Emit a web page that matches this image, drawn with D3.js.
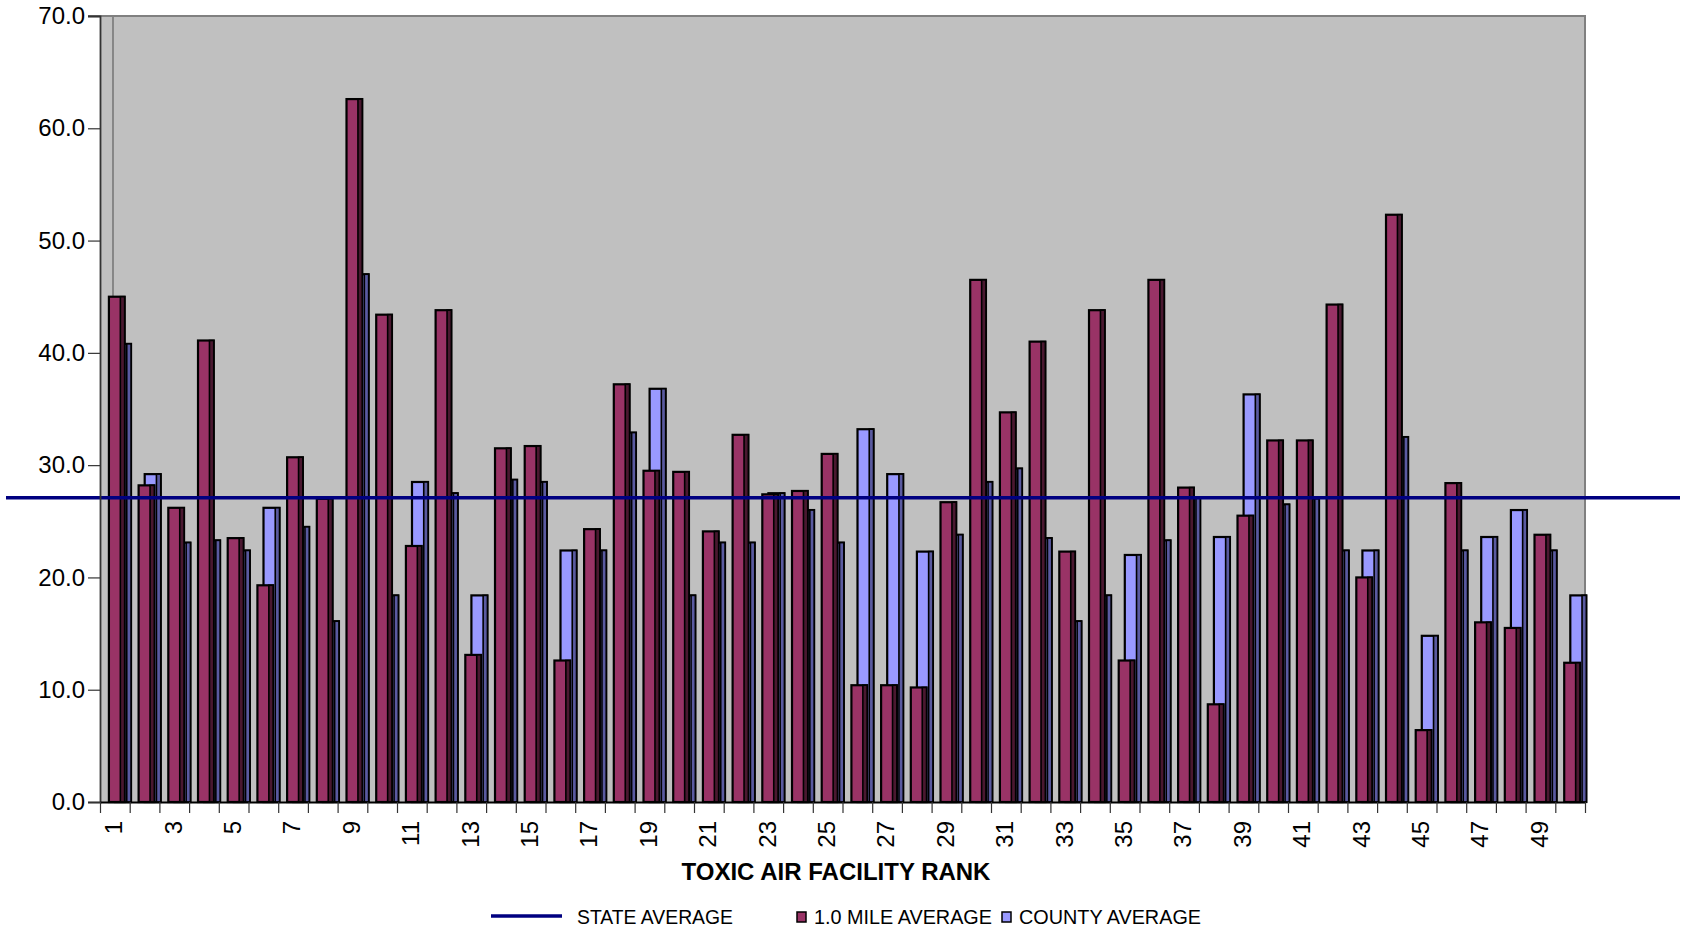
<!DOCTYPE html>
<html>
<head>
<meta charset="utf-8">
<script src="https://cdn.jsdelivr.net/npm/d3@7/dist/d3.min.js"></script>
<style>
  html, body { margin: 0; padding: 0; background: #ffffff; }
  svg { display: block; font-family: "Liberation Sans", Arial, sans-serif; }
</style>
</head>
<body>
<svg id="chart" width="1686" height="931"></svg>
<script>
// ---- data ----
const categories = [1,2,3,4,5,6,7,8,9,10,11,12,13,14,15,16,17,18,19,20,21,22,23,24,25,
                    26,27,28,29,30,31,32,33,34,35,36,37,38,39,40,41,42,43,44,45,46,47,48,49,50];
const mileAverage = [45.0, 28.2, 26.2, 41.1, 23.5, 19.3, 30.7, 27.0, 62.6, 43.4,
                     22.8, 43.8, 13.1, 31.5, 31.7, 12.6, 24.3, 37.2, 29.5, 29.4,
                     24.1, 32.7, 27.4, 27.7, 31.0, 10.4, 10.4, 10.2, 26.7, 46.5,
                     34.7, 41.0, 22.3, 43.8, 12.6, 46.5, 28.0, 8.7, 25.5, 32.2,
                     32.2, 44.3, 20.0, 52.3, 6.4, 28.4, 16.0, 15.5, 23.8, 12.4];
const countyAverage = [40.8, 29.2, 23.1, 23.3, 22.4, 26.2, 24.5, 16.1, 47.0, 18.4,
                       28.5, 27.5, 18.4, 28.7, 28.5, 22.4, 22.4, 32.9, 36.8, 18.4,
                       23.1, 23.1, 27.5, 26.0, 23.1, 33.2, 29.2, 22.3, 23.8, 28.5,
                       29.7, 23.5, 16.1, 18.4, 22.0, 23.3, 27.1, 23.6, 36.3, 26.5,
                       27.0, 22.4, 22.4, 32.5, 14.8, 22.4, 23.6, 26.0, 22.4, 18.4];
const stateAverage = 27.1;
const yTicks = [0, 10, 20, 30, 40, 50, 60, 70];
const xLabelCats = [1,3,5,7,9,11,13,15,17,19,21,23,25,27,29,31,33,35,37,39,41,43,45,47,49];
const legendLabels = ["STATE AVERAGE", "1.0 MILE AVERAGE", "COUNTY AVERAGE"];
const xTitle = "TOXIC AIR FACILITY RANK";

// ---- layout ----
const plot = { left: 100, right: 1585, top: 16, bottom: 802 };
const svg = d3.select("#chart");

const x = d3.scaleBand().domain(categories).range([plot.left, plot.right]).padding(0);
const xLin = d3.scaleLinear().domain([0, categories.length]).range([plot.left, plot.right]);
const y = d3.scaleLinear().domain([0, 70]).range([plot.bottom, plot.top]);
const bw = x.bandwidth();

// plot background
svg.append("rect")
  .attr("x", plot.left).attr("y", plot.top)
  .attr("width", plot.right - plot.left).attr("height", plot.bottom - plot.top)
  .attr("fill", "#C0C0C0");

// grey vertical line near first category
svg.append("line")
  .attr("x1", 113).attr("x2", 113)
  .attr("y1", plot.top).attr("y2", plot.bottom)
  .attr("stroke", "#808080").attr("stroke-width", 1.8);

// top & right borders
svg.append("line").attr("x1", 88).attr("x2", plot.right + 1)
  .attr("y1", plot.top).attr("y2", plot.top)
  .attr("stroke", "#808080").attr("stroke-width", 2);
svg.append("line").attr("x1", plot.right).attr("x2", plot.right)
  .attr("y1", plot.top).attr("y2", plot.bottom)
  .attr("stroke", "#808080").attr("stroke-width", 2);

// bars
function drawSeries(values, offset, widthFrac, face, side, cls) {
  const w = bw * widthFrac;
  const sideW = 4.3;
  const g = svg.append("g").attr("class", cls);
  const bars = g.selectAll("g").data(categories.map((c, i) => ({ c, v: values[i] })))
    .enter().append("g");
  bars.append("rect")
    .attr("x", d => x(d.c) + bw * offset)
    .attr("y", d => y(d.v))
    .attr("width", w)
    .attr("height", d => y(0) - y(d.v))
    .attr("fill", face).attr("stroke", "#000").attr("stroke-width", 2.2);
  bars.append("rect")
    .attr("x", d => x(d.c) + bw * offset + w - sideW)
    .attr("y", d => y(d.v))
    .attr("width", sideW)
    .attr("height", d => y(0) - y(d.v))
    .attr("fill", side).attr("stroke", "#000").attr("stroke-width", 1.6);
}
drawSeries(countyAverage, 0.505, 0.54, "#9999FF", "#5A5AA0", "county");
drawSeries(mileAverage, 0.30, 0.53, "#993366", "#4A1830", "mile");

// state average line
svg.append("line")
  .attr("x1", 6).attr("x2", 1680)
  .attr("y1", y(stateAverage)).attr("y2", y(stateAverage))
  .attr("stroke", "#000080").attr("stroke-width", 3.5);

// y axis
const yAxis = d3.axisLeft(y).tickValues(yTicks).tickFormat(d3.format(".1f")).tickSize(12).tickPadding(3);
const gy = svg.append("g").attr("transform", `translate(${plot.left},0)`).call(yAxis);
gy.select(".domain").attr("stroke", "#333").attr("stroke-width", 1.8);
gy.selectAll(".tick line").attr("stroke", "#333").attr("stroke-width", 1.2);
gy.selectAll(".tick text").attr("font-size", 24).attr("fill", "#000")
  .attr("font-family", "'Liberation Sans', Arial, sans-serif");

// x axis ticks at category boundaries
const xTickAxis = d3.axisBottom(xLin).tickValues(d3.range(0, categories.length + 1))
  .tickFormat("").tickSize(11).tickSizeOuter(0);
const gx = svg.append("g").attr("transform", `translate(0,${plot.bottom})`).call(xTickAxis);
gx.select(".domain").attr("stroke", "#000").attr("stroke-width", 1.8);
gx.selectAll(".tick line").attr("stroke", "#333").attr("stroke-width", 1.2);

// x labels (rotated)
const xLabelAxis = d3.axisBottom(x).tickValues(xLabelCats).tickSize(0).tickPadding(0);
const gxl = svg.append("g").attr("transform", `translate(0,${plot.bottom})`).call(xLabelAxis);
gxl.select(".domain").remove();
gxl.selectAll(".tick text")
  .attr("font-size", 24).attr("fill", "#000")
  .attr("font-family", "'Liberation Sans', Arial, sans-serif")
  .attr("transform", "rotate(-90)")
  .attr("text-anchor", "end")
  .attr("x", -19).attr("y", -1)
  .attr("dy", "0.35em");

// x title
svg.append("text")
  .attr("x", 836).attr("y", 880)
  .attr("text-anchor", "middle")
  .attr("font-size", 24).attr("font-weight", "bold").attr("fill", "#000")
  .text(xTitle);

// legend
const lg = svg.append("g");
lg.append("line").attr("x1", 491).attr("x2", 562).attr("y1", 916).attr("y2", 916)
  .attr("stroke", "#000080").attr("stroke-width", 3.5);
lg.append("text").attr("x", 577).attr("y", 924).attr("font-size", 21)
  .attr("textLength", 156).attr("lengthAdjust", "spacingAndGlyphs").text(legendLabels[0]);
lg.append("rect").attr("x", 797).attr("y", 912).attr("width", 9).attr("height", 10)
  .attr("fill", "#993366").attr("stroke", "#000").attr("stroke-width", 1.5);
lg.append("text").attr("x", 814).attr("y", 924).attr("font-size", 21)
  .attr("textLength", 178).attr("lengthAdjust", "spacingAndGlyphs").text(legendLabels[1]);
lg.append("rect").attr("x", 1002).attr("y", 912).attr("width", 9).attr("height", 10)
  .attr("fill", "#9999FF").attr("stroke", "#000").attr("stroke-width", 1.5);
lg.append("text").attr("x", 1019).attr("y", 924).attr("font-size", 21)
  .attr("textLength", 182).attr("lengthAdjust", "spacingAndGlyphs").text(legendLabels[2]);
</script>
</body>
</html>
